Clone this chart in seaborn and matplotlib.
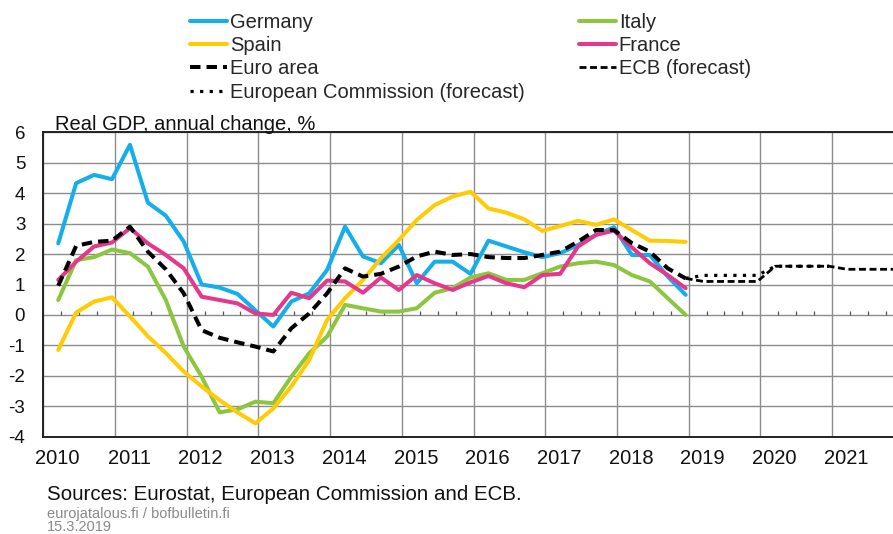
import numpy as np
import pandas as pd
import matplotlib
matplotlib.use("Agg")
import matplotlib.pyplot as plt
import matplotlib.transforms as mtransforms
import seaborn as sns

# Real GDP, annual change (%), quarterly 2010Q1-2018Q4
quarters = pd.period_range("2010Q1", "2018Q4", freq="Q")

germany = [2.35, 4.33, 4.60, 4.46, 5.59, 3.69, 3.26, 2.41, 1.00, 0.90, 0.69, 0.15,
           -0.38, 0.44, 0.71, 1.48, 2.90, 1.92, 1.70, 2.30, 1.04, 1.75, 1.75, 1.35,
           2.44, 2.25, 2.06, 1.90, 2.03, 2.30, 2.63, 2.88, 1.97, 1.97, 1.26, 0.66]
spain = [-1.15, 0.08, 0.44, 0.58, -0.05, -0.70, -1.25, -1.86, -2.35, -2.80, -3.20, -3.56,
         -3.07, -2.35, -1.48, -0.16, 0.55, 1.15, 1.86, 2.46, 3.12, 3.61, 3.89, 4.05,
         3.50, 3.36, 3.14, 2.76, 2.92, 3.09, 2.96, 3.14, 2.79, 2.44, 2.43, 2.40]
italy = [0.49, 1.80, 1.90, 2.15, 2.03, 1.59, 0.49, -1.04, -2.03, -3.20, -3.10, -2.85,
         -2.90, -2.03, -1.26, -0.71, 0.33, 0.22, 0.11, 0.11, 0.22, 0.73, 0.88, 1.23,
         1.37, 1.15, 1.15, 1.37, 1.59, 1.70, 1.75, 1.64, 1.31, 1.10, 0.55, 0.00]
france = [1.15, 1.75, 2.25, 2.38, 2.85, 2.35, 1.97, 1.53, 0.60, 0.49, 0.38, 0.05,
          0.00, 0.73, 0.55, 1.13, 1.10, 0.73, 1.23, 0.82, 1.31, 1.04, 0.82, 1.07,
          1.28, 1.04, 0.91, 1.31, 1.35, 2.25, 2.63, 2.77, 2.22, 1.70, 1.31, 0.88]
euro_area = [0.96, 2.27, 2.40, 2.44, 2.90, 2.08, 1.50, 0.71, -0.50, -0.75, -0.90, -1.04,
             -1.20, -0.44, 0.05, 0.71, 1.53, 1.26, 1.35, 1.59, 1.92, 2.08, 1.97, 2.00,
             1.90, 1.87, 1.87, 1.97, 2.08, 2.41, 2.79, 2.79, 2.36, 2.08, 1.53, 1.20]

# annual forecasts for the euro area
ecb_years = [2019, 2020, 2021]
ecb_values = [1.1, 1.6, 1.5]
ec_years = [2019, 2020]
ec_values = [1.3, 1.6]

years = list(range(2010, 2022))
y_ticks = list(range(-4, 7))


def decimal_year(periods):
    """Place each quarter at the middle of its last month."""
    return np.array([p.year + (p.quarter * 3 - 0.5) / 12 for p in periods])


def forecast_path(fc_years, fc_values):
    """Quarterly step path that starts from the last observed euro area value."""
    per = pd.period_range(f"{fc_years[0]}Q1", f"{fc_years[-1]}Q4", freq="Q")
    vals = np.repeat(fc_values, 4)
    x = np.concatenate([[decimal_year([quarters[-1]])[0]], decimal_year(per)])
    y = np.concatenate([[euro_area[-1]], vals])
    return x, y


x_obs = decimal_year(quarters)
x_ecb, y_ecb = forecast_path(ecb_years, ecb_values)
x_ec, y_ec = forecast_path(ec_years, ec_values)

sns.set_theme(style="white")
plt.rcParams["font.family"] = ["Liberation Sans", "DejaVu Sans"]
plt.rcParams["axes.unicode_minus"] = False

fig = plt.figure(figsize=(8.93, 5.34), dpi=100)
ax = fig.add_axes([43.3 / 893, 1 - 436.7 / 534, 1 - 43.3 / 893, (436.7 - 132.3) / 534])

lw = 2.9
sns.lineplot(x=x_obs, y=germany, color="#14AEEA", lw=lw, label="Germany", ax=ax)
sns.lineplot(x=x_obs, y=italy, color="#8CC63F", lw=lw, label="Italy", ax=ax)
sns.lineplot(x=x_obs, y=spain, color="#FFCB05", lw=lw, label="Spain", ax=ax)
sns.lineplot(x=x_obs, y=france, color="#E5388C", lw=lw, label="France", ax=ax)
sns.lineplot(x=x_ec, y=y_ec, color="black", lw=2.3, linestyle=(0, (1.0, 2.0)),
             label="European Commission (forecast)", ax=ax)
sns.lineplot(x=x_ecb, y=y_ecb, color="black", lw=2.0, linestyle=(0, (2.5, 1.3)),
             label="ECB (forecast)", ax=ax)
sns.lineplot(x=x_obs, y=euro_area, color="black", lw=lw, linestyle=(0, (2.6, 1.5)),
             label="Euro area", ax=ax)

# axes, grid and ticks
ax.set_xlim(2010, 2021.85)
ax.set_ylim(-4, 6)
ax.set_xticks(years)
ax.set_yticks(y_ticks)
ax.grid(True, color="#8c8c8c", lw=1.0)
ax.set_axisbelow(True)
for side in ["left", "top", "bottom"]:
    ax.spines[side].set_color("#222222")
    ax.spines[side].set_linewidth(1.4)
ax.spines["right"].set_visible(False)
ax.tick_params(axis="x", length=0, pad=9, labelsize=14.5, colors="#111111")
ax.tick_params(axis="y", length=0, pad=13, labelsize=13.5, colors="#111111")
offset = mtransforms.ScaledTranslation(0.14, 0, fig.dpi_scale_trans)
for lab in ax.get_xticklabels():
    lab.set_transform(lab.get_transform() + offset)
ax.set_xlabel("")
ax.set_ylabel("")

# small quarter ticks on the zero line
quarter_edges = np.arange(2010.25, 2021.85, 0.25)
quarter_edges = quarter_edges[quarter_edges % 1 != 0]
ax.vlines(quarter_edges, 0, 0.14, color="#555555", lw=0.9, zorder=1)

# legend in two columns above the plot
handles, labels = ax.get_legend_handles_labels()
ax.get_legend().remove()
order = ["Germany", "Spain", "Euro area", "European Commission (forecast)",
         "Italy", "France", "ECB (forecast)"]
lookup = dict(zip(labels, handles))
fig.legend([lookup[k] for k in order], order, loc="upper left",
           bbox_to_anchor=(190 / 893, 1 - 13 / 534), ncol=2, frameon=False,
           fontsize=14.5, handlelength=1.83, handletextpad=0.15,
           columnspacing=2.7, labelspacing=0.21, borderpad=0, borderaxespad=0)

fig.text(55 / 893, 1 - 130 / 534, "Real GDP, annual change, %", fontsize=14.5,
         va="baseline", ha="left", color="#111111")
fig.text(47 / 893, 1 - 500 / 534, "Sources: Eurostat, European Commission and ECB.",
         fontsize=14.8, va="baseline", ha="left", color="#111111")
fig.text(47 / 893, 1 - 518 / 534, "eurojatalous.fi / bofbulletin.fi", fontsize=10.5,
         va="baseline", ha="left", color="#8a8a8a")
fig.text(47 / 893, 1 - 531 / 534, "15.3.2019", fontsize=10.5,
         va="baseline", ha="left", color="#8a8a8a")

plt.savefig("out.png", dpi=100)
